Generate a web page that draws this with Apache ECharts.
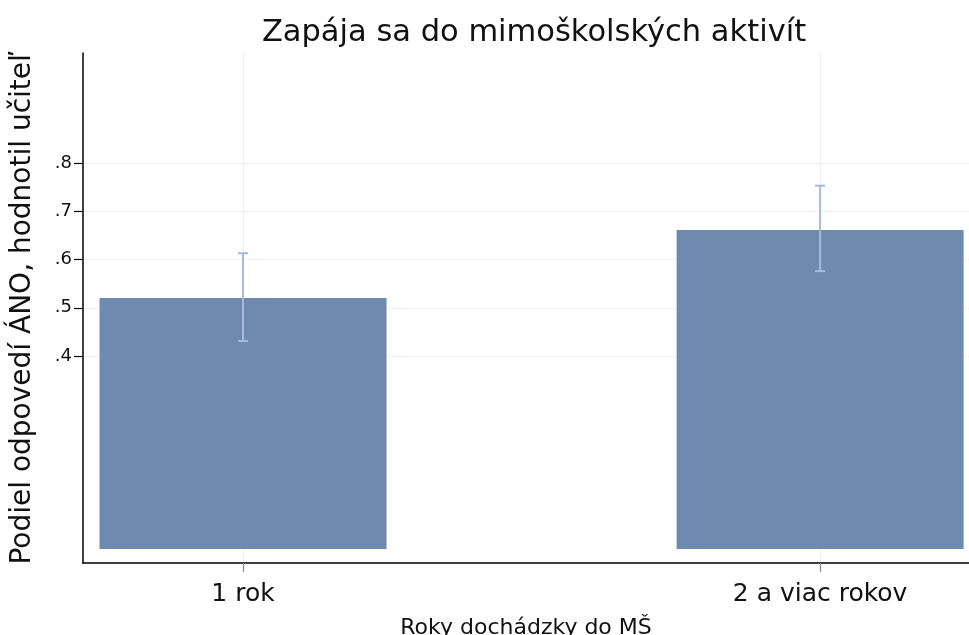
<!DOCTYPE html>
<html>
<head>
<meta charset="utf-8">
<script src="https://cdn.jsdelivr.net/npm/echarts@6/dist/echarts.min.js"></script>
<style>html,body{margin:0;padding:0;background:#fff}#c{width:969px;height:635px}</style>
</head>
<body>
<div id="c"></div>
<script>
const categories = ['1 rok', '2 a viac rokov'];
const positions = [1, 2];
const values = [0.52, 0.661];
const ciLow = [0.431, 0.576];
const ciHigh = [0.613, 0.753];
const yTicks = [0.4, 0.5, 0.6, 0.7, 0.8];

const FONT = '"DejaVu Sans", sans-serif';
const chart = echarts.init(document.getElementById('c'));
const barData = positions.map((p, i) => [p, values[i]]);
const errData = positions.map((p, i) => [p, ciLow[i], ciHigh[i]]);

chart.setOption({
  animation: false,
  backgroundColor: '#fff',
  title: {
    text: 'Zapája sa do mimoškolských aktivít',
    left: 529, textAlign: 'center', top: 13,
    textStyle: { fontFamily: FONT, fontSize: 30.5, fontWeight: 'normal', color: '#111' }
  },
  grid: { left: 83, right: 0, top: 53, bottom: 72, outerBoundsMode: 'none', containLabel: false },
  xAxis: {
    type: 'value', min: 0.7227, max: 2.258,
    name: 'Roky dochádzky do MŠ', nameLocation: 'middle', nameGap: 54,
    nameTextStyle: { fontFamily: FONT, fontSize: 22, color: '#111' },
    axisLine: { show: true, onZero: false, lineStyle: { color: '#000', width: 1.5 } },
    axisTick: { show: true, customValues: positions, length: 9, lineStyle: { color: '#888', width: 1.2 } },
    axisLabel: { customValues: positions, margin: 19, fontFamily: FONT, fontSize: 25, color: '#111',
      formatter: v => categories[positions.indexOf(Math.round(v))] || '' },
    splitLine: { show: true, lineStyle: { color: '#eef0f4', width: 1 } }
  },
  yAxis: {
    type: 'value', min: -0.029, max: 1.028,
    name: 'Podiel odpovedí ÁNO, hodnotil učiteľ', nameLocation: 'middle', nameGap: 46,
    nameTextStyle: { fontFamily: FONT, fontSize: 28, color: '#111' },
    axisLine: { show: true, onZero: false, lineStyle: { color: '#000', width: 1.5 } },
    axisTick: { show: true, customValues: yTicks, length: 9, lineStyle: { color: '#000', width: 1.2 } },
    axisLabel: { customValues: yTicks, margin: 11, fontFamily: FONT, fontSize: 18, color: '#111',
      padding: [6, 0, 0, 0],
      formatter: v => v.toFixed(1).replace(/^0/, '') },
    splitLine: { show: true, lineStyle: { color: '#eef0f4', width: 1 } }
  },
  series: [
    {
      type: 'bar', data: barData, barWidth: 287,
      itemStyle: { color: '#6f89af' }, silent: true
    },
    {
      type: 'custom', data: errData, silent: true, z: 10,
      renderItem: (params, api) => {
        const x = api.value(0);
        const lo = api.coord([x, api.value(1)]);
        const hi = api.coord([x, api.value(2)]);
        const hw = 5;
        const style = { stroke: '#a7bad6', lineWidth: 2 };
        return {
          type: 'group',
          children: [
            { type: 'line', shape: { x1: lo[0], y1: lo[1], x2: hi[0], y2: hi[1] }, style },
            { type: 'line', shape: { x1: lo[0] - hw, y1: lo[1], x2: lo[0] + hw, y2: lo[1] }, style },
            { type: 'line', shape: { x1: hi[0] - hw, y1: hi[1], x2: hi[0] + hw, y2: hi[1] }, style }
          ]
        };
      }
    }
  ]
});
</script>
</body>
</html>
